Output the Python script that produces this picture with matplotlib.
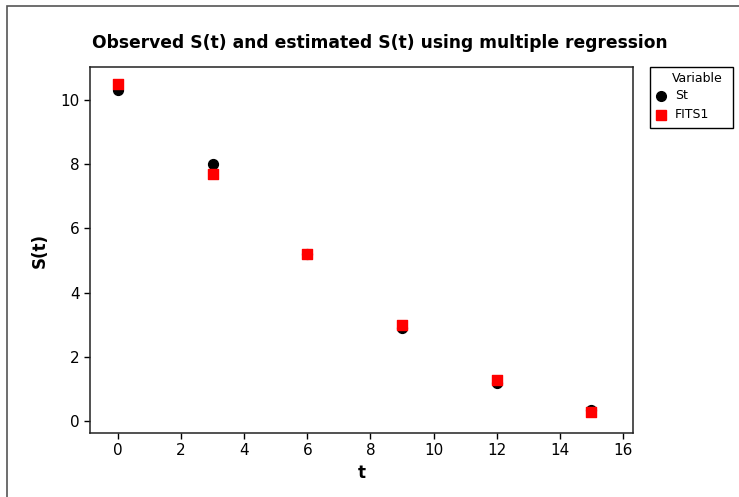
import matplotlib.pyplot as plt
from matplotlib.patches import Rectangle
from matplotlib.lines import Line2D

# observed and fitted values
t = [0, 3, 6, 9, 12, 15]
st = [10.3, 8.0, 5.2, 2.9, 1.2, 0.35]
fits1 = [10.5, 7.7, 5.22, 3.0, 1.27, 0.27]

xticks = [0, 2, 4, 6, 8, 10, 12, 14, 16]
yticks = [0, 2, 4, 6, 8, 10]

W, H = 739, 497
fig = plt.figure(figsize=(W / 100, H / 100), dpi=100)
fig.patch.set_facecolor('white')


def fx(px):
    return px / W


def fy(py):
    return 1 - py / H


# outer frame, only top and left edges visible
fig.patches.append(Rectangle((fx(7), -0.1), 1.2, fy(6) + 0.1, transform=fig.transFigure,
                             fill=False, edgecolor='#555555', linewidth=1.2))

ax = fig.add_axes([fx(90), fy(433), (633 - 90) / W, (433 - 67) / H])
ax.scatter(t, st, s=50, marker='o', color='black', label='St', zorder=3)
ax.scatter(t, fits1, s=45, marker='s', color='#ff0000', label='FITS1', zorder=4)

ax.set_xlim(-0.89, 16.32)
ax.set_ylim(-0.37, 11.03)
ax.set_xticks(xticks)
ax.set_yticks(yticks)
ax.tick_params(direction='out', length=4, width=1, labelsize=11, colors='black')
for s in ax.spines.values():
    s.set_linewidth(1.1)
    s.set_color('#222222')

ax.set_xlabel('t', fontsize=12, fontweight='bold', labelpad=4)
ax.set_ylabel('S(t)', fontsize=12, fontweight='bold', labelpad=8)
fig.text(fx(380), fy(43), 'Observed S(t) and estimated S(t) using multiple regression',
         ha='center', va='center', fontsize=12.3, fontweight='bold')

# legend box at the right
fig.patches.append(Rectangle((fx(650), fy(128)), (733 - 650) / W, (128 - 67) / H,
                             transform=fig.transFigure, fill=False,
                             edgecolor='black', linewidth=1))
fig.text(fx(723), fy(78), 'Variable', ha='right', va='center', fontsize=9)
for (py, lbl, mk, col, ms) in [(96, 'St', 'o', 'black', 7), (115, 'FITS1', 's', '#ff0000', 6.5)]:
    fig.add_artist(Line2D([fx(661)], [fy(py)], marker=mk, color=col, markersize=ms,
                          linestyle='none', transform=fig.transFigure))
    fig.text(fx(675), fy(py), lbl, ha='left', va='center', fontsize=9)

fig.savefig('out.png', dpi=100)
